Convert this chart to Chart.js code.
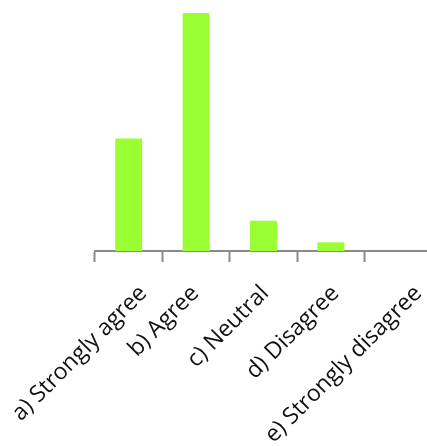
<!DOCTYPE html>
<html>
<head>
<meta charset="utf-8">
<script src="https://cdn.jsdelivr.net/npm/chart.js@4/dist/chart.umd.min.js"></script>
<style>
html,body{margin:0;padding:0;background:#fff;overflow:hidden;width:427px;height:446px;}
canvas{display:block;}
</style>
</head>
<body>
<canvas id="c" width="432" height="446"></canvas>
<script>
const categories = ['a) Strongly agree', 'b) Agree', 'c) Neutral', 'd) Disagree', 'e) Strongly disagree'];
const counts = [26, 55, 7, 2, 0];

// Spreadsheet-style anchoring of rotated labels: longer labels sit further right of the tick.
const labelAnchor = {
  id: 'labelAnchor',
  beforeDraw(chart) {
    const scale = chart.scales.x;
    const items = scale.getLabelItems(chart.chartArea);
    if (items._shifted) return;
    const c = chart.ctx;
    c.save();
    items.forEach(it => {
      c.font = it.font.string;
      const w = c.measureText(String(it.label)).width;
      it.options.translation[0] += 0.17 * w - 16;
    });
    c.restore();
    items._shifted = true;
  }
};

const ctx = document.getElementById('c').getContext('2d');
new Chart(ctx, {
  type: 'bar',
  data: {
    labels: categories,
    datasets: [{
      data: counts,
      backgroundColor: '#99ff33',
      borderWidth: 0,
      categoryPercentage: 1.0,
      barPercentage: 0.4
    }]
  },
  plugins: [labelAnchor],
  options: {
    responsive: false,
    animation: false,
    devicePixelRatio: 1,
    layout: { padding: { left: 95, top: 13, right: 0, bottom: 0 } },
    plugins: { legend: { display: false }, tooltip: { enabled: false } },
    scales: {
      y: { display: false, min: 0, max: 55 },
      x: {
        border: { display: true, color: '#8a8a8a', width: 2 },
        grid: { drawOnChartArea: false, drawTicks: true, tickLength: 11, tickColor: '#8a8a8a', tickWidth: 2, offset: true },
        ticks: {
          autoSkip: false,
          maxRotation: 45,
          minRotation: 45,
          padding: 18,
          labelOffset: 0,
          color: '#111',
          font: { family: 'Open Sans', size: 23 }
        },
        afterFit: function(scale) {
          scale.height = 195;
          scale.paddingLeft = 0;
          scale.paddingRight = 0;
        }
      }
    }
  }
});
</script>
</body>
</html>
